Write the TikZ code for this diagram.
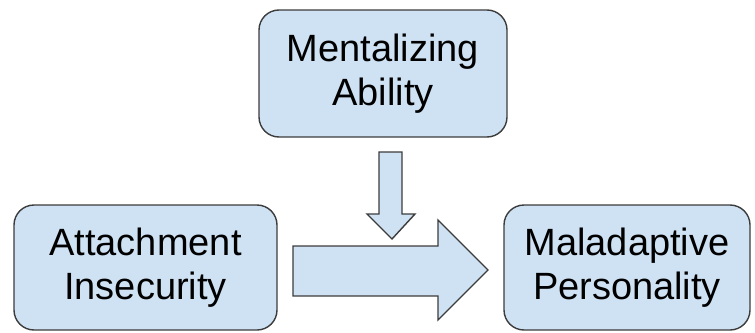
\documentclass[tikz,border=0pt]{standalone}
\usepackage{fontspec}
\setmainfont{Liberation Sans}
\definecolor{boxfill}{HTML}{CFE2F3}
\definecolor{boxline}{HTML}{3C3C3C}
\begin{document}
\begin{tikzpicture}[x=1pt,y=-1pt,
  box/.style={draw=boxline,fill=boxfill,line width=1.4pt,rounded corners=20pt,
    align=center,inner sep=0pt,font=\fontsize{38}{44}\selectfont},
  blockarrow/.style={draw=boxline,fill=boxfill,line width=1.4pt,line join=miter}]
\useasboundingbox (0,0) rectangle (755,332);
\node[box,minimum width=248pt,minimum height=127pt] (ment) at (383,73.5) {Mentalizing\\Ability};
\node[box,minimum width=263pt,minimum height=125pt] (att) at (145.5,267.5) {Attachment\\Insecurity};
\node[box,minimum width=246pt,minimum height=125pt] (mal) at (627,267.5) {Maladaptive\\Personality};
% down arrow
\draw[blockarrow] (379,152) -- (402,152) -- (402,214) -- (415,214) -- (392,239) -- (367,214) -- (379,214) -- cycle;
% right arrow
\draw[blockarrow] (293,246) -- (438,246) -- (438,220) -- (488,270) -- (438,320) -- (438,296) -- (293,296) -- cycle;
\end{tikzpicture}
\end{document}
